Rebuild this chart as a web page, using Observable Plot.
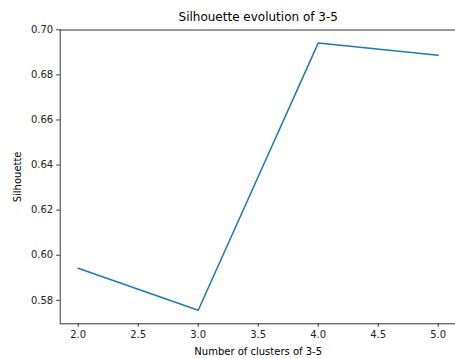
<!DOCTYPE html>
<html>
<head>
<meta charset="utf-8">
<script src="https://cdn.jsdelivr.net/npm/d3@7"></script>
<script src="https://cdn.jsdelivr.net/npm/@observablehq/plot@0.6"></script>
<style>
  html, body { margin: 0; padding: 0; background: #fff; }
  svg { display: block; }
</style>
</head>
<body>
<div id="chart"></div>
<script>
const clusters = [2, 3, 4, 5];
const silhouette = [0.5942, 0.5756, 0.6941, 0.6887];
const xTicks = [2.0, 2.5, 3.0, 3.5, 4.0, 4.5, 5.0];
const yTicks = [0.58, 0.60, 0.62, 0.64, 0.66, 0.68, 0.70];
const titleText = "Silhouette evolution of 3-5";
const xLabel = "Number of clusters of 3-5";
const yLabel = "Silhouette";

const data = clusters.map((c, i) => ({x: c, y: silhouette[i]}));
const xDom = [1.85, 5.15];
const yDom = [0.5696, 0.6999];

const chart = Plot.plot({
  width: 455,
  height: 358,
  marginLeft: 59.7,
  marginRight: 0,
  marginTop: 29.5,
  marginBottom: 34.7,
  style: {fontFamily: "DejaVu Sans", fontSize: "10px", color: "#000", background: "#fff", overflow: "visible"},
  x: {domain: xDom, range: [59.7, 455.7]},
  y: {domain: yDom, range: [323.3, 29.5]},
  marks: [
    Plot.axisX(xTicks, {tickSize: 3.5, tickPadding: 3.5, tickFormat: d3.format(".1f"), label: null, stroke: "#000", strokeWidth: 0.8, fontSize: 10, fill: "#222"}),
    Plot.axisY(yTicks, {tickSize: 3.5, tickPadding: 3.5, tickFormat: d3.format(".2f"), label: null, stroke: "#000", strokeWidth: 0.8, fontSize: 10, fill: "#222"}),
    Plot.ruleX([xDom[0]], {stroke: "#000", strokeWidth: 0.8}),
    Plot.ruleY([yDom[0]], {stroke: "#000", strokeWidth: 0.8}),
    Plot.ruleY([yDom[1]], {stroke: "#000", strokeWidth: 0.8}),
    Plot.line(data, {x: "x", y: "y", stroke: "#1f77b4", strokeWidth: 1.5}),
    Plot.text([titleText], {frameAnchor: "top", x: d3.mean(xDom), dy: -13, fontSize: 12, fill: "#000", lineAnchor: "middle"}),
    Plot.text([xLabel], {frameAnchor: "bottom", x: d3.mean(xDom), dy: 28, fontSize: 10, fill: "#000", lineAnchor: "middle"}),
    Plot.text([yLabel], {frameAnchor: "left", y: d3.mean(yDom), dx: -42, rotate: -90, fontSize: 10, fill: "#000", textAnchor: "middle"})
  ]
});
document.getElementById("chart").appendChild(chart);
</script>
</body>
</html>
